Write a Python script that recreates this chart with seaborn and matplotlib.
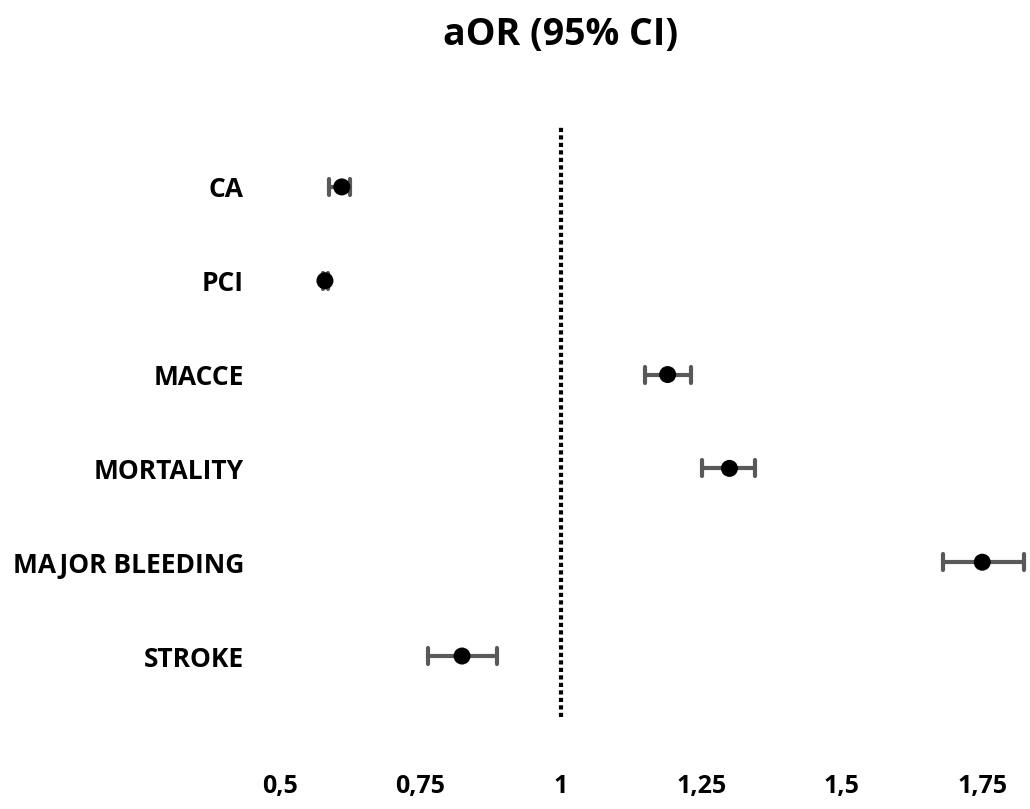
import matplotlib
matplotlib.use("Agg")
import matplotlib.pyplot as plt
import seaborn as sns
import pandas as pd

outcomes = ["CA", "PCI", "MACCE", "MORTALITY", "MAJOR BLEEDING", "STROKE"]
aor = [0.61, 0.58, 1.19, 1.30, 1.75, 0.824]
ci_low = [0.588, 0.576, 1.149, 1.252, 1.681, 0.764]
ci_high = [0.624, 0.585, 1.232, 1.346, 1.824, 0.887]
xticks = [0.5, 0.75, 1.0, 1.25, 1.5, 1.75]
xtick_labels = ["0,5", "0,75", "1", "1,25", "1,5", "1,75"]

rows = []
for o, lo, m, hi in zip(outcomes, ci_low, aor, ci_high):
    for v in (lo, m, hi):
        rows.append({"outcome": o, "value": v})
df = pd.DataFrame(rows)

sns.set_theme(style="white")
plt.rcParams["font.family"] = ["Open Sans", "DejaVu Sans"]
plt.rcParams["font.weight"] = "bold"
plt.rcParams["text.color"] = "black"
plt.rcParams["xtick.color"] = "black"
plt.rcParams["ytick.color"] = "black"

fig = plt.figure(figsize=(10.30, 8.09), dpi=100)
ax = fig.add_axes([280 / 1030, 1 - 717 / 809, 1 - 280 / 1030, (717 - 125) / 809])

sns.pointplot(data=df, x="value", y="outcome", order=outcomes, estimator="median",
              errorbar=("pi", 100), linestyle="none", color="#595959", capsize=0.17,
              err_kws={"linewidth": 3, "color": "#595959"}, markers="", ax=ax)
sns.scatterplot(x=aor, y=list(range(len(outcomes))), color="black", s=150,
                edgecolor="none", zorder=5, ax=ax)

ax.axvline(1.0, color="black", linewidth=3, linestyle=(0, (1, 0.8)), zorder=1)

ax.set_xlim(0.5, 1.835)
ax.set_ylim(5.65, -0.66)
ax.set_xticks(xticks)
ax.set_xticklabels(xtick_labels, fontsize=18, fontweight="bold", color="black")
ax.set_yticks(range(len(outcomes)))
ax.set_yticklabels(outcomes, fontsize=19, fontweight="bold", color="black")
ax.tick_params(axis="x", length=0, pad=41)
ax.tick_params(axis="y", length=0, pad=26)
ax.set_xlabel("")
ax.set_ylabel("")
for s in ax.spines.values():
    s.set_visible(False)
ax.grid(False)

fig.text(561 / 1030, 1 - 35 / 809, "aOR (95% CI)", ha="center", va="center",
         fontsize=27, fontweight="bold", color="black")

fig.savefig("out.png", dpi=100)
